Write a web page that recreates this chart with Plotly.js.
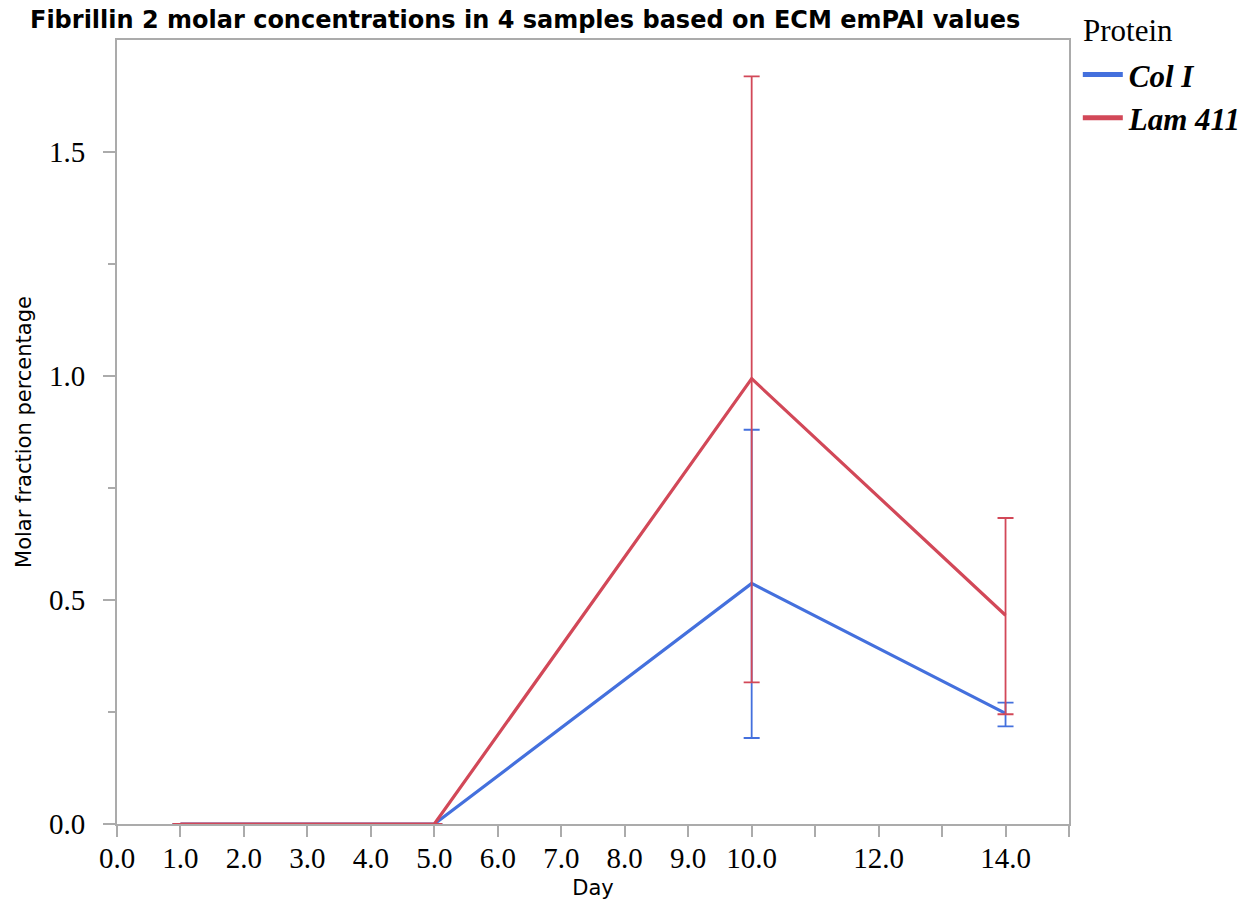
<!DOCTYPE html>
<html>
<head>
<meta charset="utf-8">
<script src="https://cdn.plot.ly/plotly-3.0.1.min.js"></script>
<style>html,body{margin:0;padding:0;background:#fff;}#chart{width:1259px;height:905px;}</style>
</head>
<body>
<div id="chart"></div>
<script>
// Data
const days = [1, 5, 10, 14];
const colI = [0, 0, 0.537, 0.247];
const colIErrPlus = [0, 0, 0.343, 0.024];
const colIErrMinus = [0, 0, 0.345, 0.029];
const lam411 = [0, 0, 0.994, 0.466];
const lam411ErrPlus = [0, 0, 0.675, 0.217];
const lam411ErrMinus = [0, 0, 0.678, 0.221];
const xTickVals = [0,1,2,3,4,5,6,7,8,9,10,11,12,13,14,15];
const xTickText = ['0.0','1.0','2.0','3.0','4.0','5.0','6.0','7.0','8.0','9.0','10.0','','12.0','','14.0',''];
const yTickVals = [0, 0.5, 1.0, 1.5];
const yTickText = ['0.0','0.5','1.0','1.5'];
const yMinorVals = [0.25, 0.75, 1.25];

const blue = '#4470DD';
const red = '#D24858';

const traces = [
  {x: days, y: colI, name: 'Col I', type: 'scatter', mode: 'lines',
   line: {color: blue, width: 3.2},
   error_y: {type: 'data', symmetric: false, array: colIErrPlus, arrayminus: colIErrMinus,
             color: blue, thickness: 1.8, width: 8}},
  {x: days, y: lam411, name: 'Lam 411', type: 'scatter', mode: 'lines',
   line: {color: red, width: 3.2},
   error_y: {type: 'data', symmetric: false, array: lam411ErrPlus, arrayminus: lam411ErrMinus,
             color: red, thickness: 1.8, width: 8}}
];

const axisColor = '#ABABAB';
const serif = 'Liberation Serif, Times New Roman, serif';
const sans = 'DejaVu Sans, sans-serif';
const layout = {
  width: 1259, height: 905,
  paper_bgcolor: '#fff', plot_bgcolor: '#fff',
  margin: {l: 117, r: 187, t: 40, b: 81},
  title: {text: '<b>Fibrillin 2 molar concentrations in 4 samples based on ECM emPAI values</b>',
          font: {family: sans, size: 24, color: '#000'},
          x: 30/1259, xanchor: 'left', xref: 'container', y: 1 - 20/905, yanchor: 'middle', yref: 'container'},
  xaxis: {range: [0, 15], showgrid: false, zeroline: false, showline: true, linecolor: axisColor, linewidth: 2,
          mirror: true, ticks: 'outside', ticklen: 11, tickwidth: 2, tickcolor: axisColor,
          tickmode: 'array', tickvals: xTickVals, ticktext: xTickText, ticklabelstandoff: -4,
          tickfont: {family: serif, size: 29, color: '#000'},
          title: {text: 'Day', font: {family: sans, size: 21, color: '#000'}, standoff: 8}},
  yaxis: {range: [0, 1.75], showgrid: false, zeroline: false, showline: true, linecolor: axisColor, linewidth: 2,
          mirror: true, ticks: 'outside', ticklen: 12, tickwidth: 2, tickcolor: axisColor,
          tickmode: 'array', tickvals: yTickVals, ticktext: yTickText, ticklabelstandoff: 12,
          minor: {tickvals: yMinorVals, ticks: 'outside', ticklen: 7, tickwidth: 1.5, tickcolor: axisColor, showgrid: false},
          tickfont: {family: serif, size: 29, color: '#000'},
          title: {text: 'Molar fraction percentage', font: {family: sans, size: 21, color: '#000'}, standoff: 12}},
  showlegend: true,
  legend: {x: 1.004, xanchor: 'left', y: 0.99, yanchor: 'top',
           font: {family: serif, size: 31, color: '#000', weight: 'bold', style: 'italic'},
           itemwidth: 46, tracegroupgap: 0},
  annotations: [{text: 'Protein', showarrow: false, xref: 'paper', yref: 'paper',
                 x: (1084 - 117) / 955, xanchor: 'left', y: (824 - 30) / 784, yanchor: 'middle',
                 font: {family: serif, size: 31, color: '#000'}}]
};

Plotly.newPlot('chart', traces, layout, {displayModeBar: false, staticPlot: true}).then(function (gd) {
  // legend swatches: longer, thicker lines as in the reference
  gd.querySelectorAll('.legend .legendlines path').forEach(function (p) {
    p.setAttribute('d', 'M10,0h40');
    p.style.strokeWidth = '5px';
  });
});
</script>
</body>
</html>
